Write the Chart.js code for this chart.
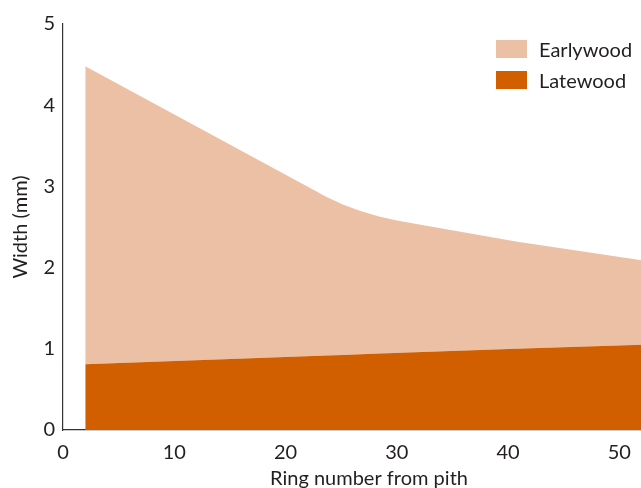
<!DOCTYPE html>
<html>
<head>
<meta charset="utf-8">
<script src="https://cdn.jsdelivr.net/npm/chart.js@4.4.1/dist/chart.umd.min.js"></script>
<style>
  html, body { margin: 0; padding: 0; background: #fff; }
  #wrap { position: relative; width: 641px; height: 488px; overflow: hidden; }
  #chart { position: absolute; left: 0; top: 0; }
  #legend { position: absolute; left: 496px; top: 33px; font-family: Lato, sans-serif; font-size: 20px; color: #231f20; }
  .item { display: flex; align-items: center; height: 31px; }
  .box { width: 31px; height: 18px; margin-right: 12px; }
</style>
</head>
<body>
<div id="wrap">
  <canvas id="chart" width="720" height="488"></canvas>
  <div id="legend"></div>
</div>
<script>
// ring number from pith
const rings = [2, 23.7, 25.2, 26.8, 28.4, 29.8, 31, 40.7, 52];
// latewood width (mm)
const latewood = [0.81, 0.918, 0.925, 0.933, 0.941, 0.948, 0.955, 1.0, 1.05];
// earlywood width (mm), stacked on top of latewood
const earlywood = [3.67, 1.952, 1.85, 1.762, 1.689, 1.637, 1.6, 1.32, 1.04];
const xTicks = [0, 10, 20, 30, 40, 50];
const yTicks = [0, 1, 2, 3, 4, 5];

const seriesNames = ['Earlywood', 'Latewood'];
const colors = { Earlywood: '#ebc0a5', Latewood: '#d15f00' };

const font = { family: 'Lato, sans-serif', size: 20 };
const ink = '#231f20';

function toPoints(vals) {
    return rings.map((r, i) => ({ x: r, y: vals[i] }));
}

// legend
const legend = document.getElementById('legend');
seriesNames.forEach(name => {
    const row = document.createElement('div');
    row.className = 'item';
    row.innerHTML = '<span class="box" style="background:' + colors[name] + '"></span><span>' + name + '</span>';
    legend.appendChild(row);
});

const ctx = document.getElementById('chart').getContext('2d');
new Chart(ctx, {
    type: 'line',
    data: {
        datasets: [
            {
                label: 'Latewood',
                data: toPoints(latewood),
                backgroundColor: colors.Latewood,
                borderWidth: 0,
                pointRadius: 0,
                fill: 'origin'
            },
            {
                label: 'Earlywood',
                data: toPoints(earlywood),
                backgroundColor: colors.Earlywood,
                borderWidth: 0,
                pointRadius: 0,
                fill: '-1'
            }
        ]
    },
    options: {
        responsive: false,
        animation: false,
        // the figure is cropped on the right: axis runs to 55, window shows to ~52
        layout: { padding: { top: 24, left: 0, right: 45, bottom: 0 } },
        plugins: { legend: { display: false }, tooltip: { enabled: false } },
        scales: {
            x: {
                type: 'linear',
                min: 0,
                max: 55,
                afterBuildTicks: s => { s.ticks = xTicks.map(v => ({ value: v })); },
                afterFit: s => { s.height = 58; },
                grid: { display: false, drawOnChartArea: false, drawTicks: true, tickLength: 7, tickColor: '#333' },
                border: { color: '#333', width: 1.2 },
                ticks: { color: ink, font: font, padding: 4, maxRotation: 0 },
                title: { display: true, text: 'Ring number from pith', color: ink, font: font, padding: { top: 0, bottom: -3 } }
            },
            y: {
                stacked: true,
                min: 0,
                max: 5,
                afterBuildTicks: s => { s.ticks = yTicks.map(v => ({ value: v })); },
                afterFit: s => { s.width = 63; },
                grid: { display: false, drawOnChartArea: false, drawTicks: false },
                border: { color: '#333', width: 1.2 },
                ticks: { color: ink, font: font, padding: 8 },
                title: { display: true, text: 'Width (mm)', color: ink, font: font, padding: { top: 9, bottom: 0 } }
            }
        }
    }
});
</script>
</body>
</html>
